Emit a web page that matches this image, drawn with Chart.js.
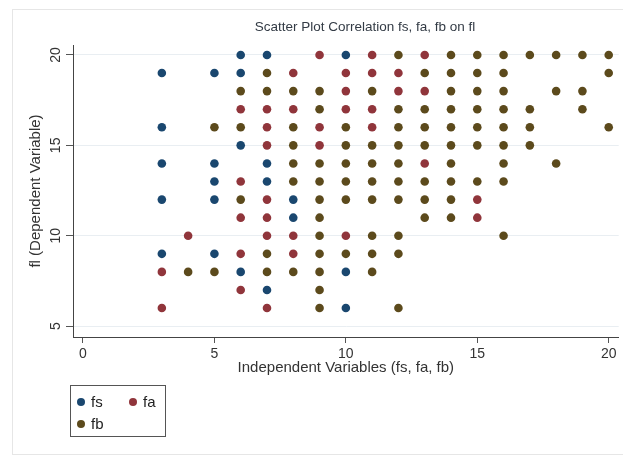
<!DOCTYPE html>
<html>
<head>
<meta charset="utf-8">
<script src="https://cdn.jsdelivr.net/npm/chart.js@4"></script>
<style>
  html, body { margin: 0; padding: 0; background: #fff; }
</style>
</head>
<body>
<canvas id="scatterChart" width="623" height="458"></canvas>
<script>
// fs points (x = fs, y = fl)
const fsX = [3, 5, 6, 6, 7, 3, 6, 3, 5, 7, 5, 7, 3, 5, 8, 8, 3, 5, 6, 7, 10, 10, 10];
const fsY = [19, 19, 19, 20, 20, 16, 15, 14, 14, 14, 13, 13, 12, 12, 12, 11, 9, 9, 8, 7, 20, 8, 6];

// fa points
const faX = [8, 6, 7, 8, 7, 7, 6, 7, 6, 7, 4, 7, 8, 6, 8, 3, 6, 3, 7,
             9, 11, 13, 10, 11, 12, 10, 12, 13, 10, 11, 9, 11, 9, 13, 10, 15, 15];
const faY = [19, 17, 17, 17, 16, 15, 13, 12, 11, 11, 10, 10, 10, 9, 9, 8, 7, 6, 6,
             20, 20, 20, 19, 19, 19, 18, 18, 18, 17, 17, 16, 16, 15, 14, 10, 12, 11];

// fb points, one line per x value
const fbX = [4,
             5, 5,
             6, 6, 6,
             7, 7, 7, 7,
             8, 8, 8, 8, 8, 8,
             9, 9, 9, 9, 9, 9, 9, 9, 9, 9, 9,
             10, 10, 10, 10, 10, 10,
             11, 11, 11, 11, 11, 11, 11, 11,
             12, 12, 12, 12, 12, 12, 12, 12, 12, 12,
             13, 13, 13, 13, 13, 13, 13,
             14, 14, 14, 14, 14, 14, 14, 14, 14, 14,
             15, 15, 15, 15, 15, 15, 15,
             16, 16, 16, 16, 16, 16, 16, 16, 16,
             17, 17, 17, 17,
             18, 18, 18,
             19, 19, 19,
             20, 20, 20];
const fbY = [8,
             16, 8,
             18, 16, 12,
             19, 18, 9, 8,
             18, 16, 15, 14, 13, 8,
             18, 17, 14, 13, 12, 11, 10, 9, 8, 7, 6,
             16, 15, 14, 13, 12, 9,
             18, 15, 14, 13, 12, 10, 9, 8,
             20, 17, 16, 15, 14, 13, 12, 10, 9, 6,
             19, 17, 16, 15, 13, 12, 11,
             20, 19, 18, 17, 16, 15, 14, 13, 12, 11,
             20, 19, 18, 17, 16, 15, 13,
             20, 19, 18, 17, 16, 15, 14, 13, 10,
             20, 17, 16, 15,
             20, 18, 14,
             20, 18, 17,
             20, 19, 16];

const seriesNames = ['fs', 'fa', 'fb'];
const seriesColors = ['#1a476f', '#90353b', '#5c4a1c'];
const xTicks = [0, 5, 10, 15, 20];
const yTicks = [5, 10, 15, 20];

const chartTitle = 'Scatter Plot Correlation fs, fa, fb on fl';
const xTitle = 'Independent Variables (fs, fa, fb)';
const yTitle = 'fl (Dependent Variable)';

const FONT = '"Liberation Sans", Arial, sans-serif';

function toPoints(xs, ys) {
    return xs.map((x, i) => ({ x: x, y: ys[i] }));
}

// Frame, title and boxed legend, Stata style
const decorations = {
    id: 'decorations',
    beforeDraw(chart) {
        const ctx = chart.ctx;
        ctx.save();
        ctx.strokeStyle = '#e6e6e6';
        ctx.lineWidth = 1;
        ctx.strokeRect(12.5, 9.5, 620, 445);
        ctx.restore();
    },
    afterDraw(chart) {
        const ctx = chart.ctx;
        ctx.save();
        ctx.fillStyle = '#333b45';
        ctx.font = '13.5px ' + FONT;
        ctx.textAlign = 'center';
        ctx.textBaseline = 'middle';
        ctx.fillText(chartTitle, 365, 27);

        // legend box
        ctx.strokeStyle = '#555';
        ctx.lineWidth = 1;
        ctx.strokeRect(70.5, 385.5, 95, 51);
        const items = [[81, 402], [133, 402], [81, 424]];
        ctx.font = '15px ' + FONT;
        ctx.textAlign = 'left';
        items.forEach(([x, y], i) => {
            ctx.fillStyle = seriesColors[i];
            ctx.beginPath();
            ctx.arc(x, y, 4, 0, Math.PI * 2);
            ctx.fill();
            ctx.fillStyle = '#222';
            ctx.fillText(seriesNames[i], x + 10, y + 1);
        });
        ctx.restore();
    }
};

const ctx = document.getElementById('scatterChart').getContext('2d');
new Chart(ctx, {
    type: 'scatter',
    data: {
        datasets: [
            { label: 'fs', data: toPoints(fsX, fsY), backgroundColor: seriesColors[0] },
            { label: 'fa', data: toPoints(faX, faY), backgroundColor: seriesColors[1] },
            { label: 'fb', data: toPoints(fbX, fbY), backgroundColor: seriesColors[2] }
        ]
    },
    options: {
        responsive: false,
        animation: false,
        layout: { padding: { left: 0, top: 45, right: 3, bottom: 81 } },
        elements: { point: { radius: 4.3, borderWidth: 0, hoverRadius: 4.3 } },
        plugins: {
            legend: { display: false },
            tooltip: { enabled: false }
        },
        scales: {
            x: {
                type: 'linear',
                min: -0.38,
                max: 20.38,
                afterFit: s => { s.height = 40; },
                afterBuildTicks: s => { s.ticks = xTicks.map(v => ({ value: v })); },
                ticks: { color: '#333', font: { family: FONT, size: 14 }, padding: 3 },
                grid: { drawOnChartArea: false, tickLength: 6, color: '#555' },
                border: { color: '#444', width: 1 },
                title: {
                    display: true, text: xTitle, color: '#333',
                    font: { family: FONT, size: 15 }, padding: { top: 0, bottom: 0 }
                }
            },
            y: {
                type: 'linear',
                min: 4.4,
                max: 20.55,
                afterFit: s => { s.width = 73; },
                afterBuildTicks: s => { s.ticks = yTicks.map(v => ({ value: v })); },
                ticks: {
                    color: '#333', font: { family: FONT, size: 14 }, padding: 2,
                    minRotation: 90, maxRotation: 90, crossAlign: 'center'
                },
                grid: { color: '#e9eef2', tickColor: '#555', tickLength: 7 },
                border: { color: '#444', width: 1 },
                title: {
                    display: true, text: yTitle, color: '#333',
                    font: { family: FONT, size: 15 }, padding: { top: 27, bottom: 0 }
                }
            }
        }
    },
    plugins: [decorations]
});
</script>
</body>
</html>
